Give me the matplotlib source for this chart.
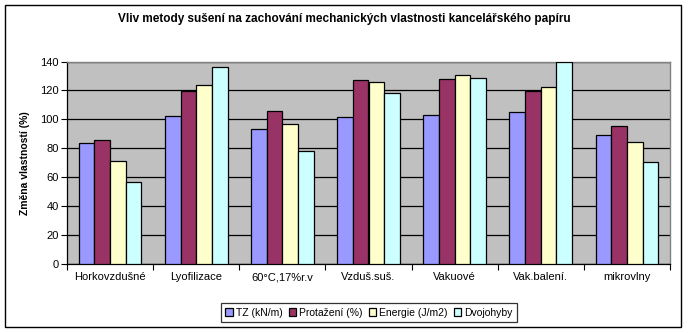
import matplotlib
matplotlib.use("Agg")
import matplotlib.pyplot as plt
import numpy as np
from matplotlib.patches import Rectangle

plt.rcParams['font.family'] = ['Liberation Sans', 'DejaVu Sans']

categories = ["Horkovzdušné", "Lyofilizace", "60°C,17%r.v", "Vzduš.suš.",
              "Vakuové", "Vak.balení.", "mikrovlny"]
series_names = ["TZ (kN/m)", "Protažení (%)", "Energie (J/m2)", "Dvojohyby"]
tz = [83.5, 102.2, 93.2, 101.5, 102.9, 105.2, 89.0]
protazeni = [85.8, 119.7, 105.7, 127.1, 127.8, 119.7, 95.3]
energie = [71.0, 123.9, 96.7, 125.7, 130.6, 122.3, 84.2]
dvojohyby = [56.5, 136.3, 78.0, 118.1, 128.5, 139.8, 70.4]
colors = ["#9999FF", "#993366", "#FFFFCC", "#CCFFFF"]
yticks = [0, 20, 40, 60, 80, 100, 120, 140]

fig = plt.figure(figsize=(6.89, 3.33), dpi=100)
fig.patch.set_facecolor("white")
fig.patches.append(Rectangle((5 / 689, 1 - 327 / 333), 676 / 689, 322 / 333,
                             transform=fig.transFigure, fill=False,
                             edgecolor="black", linewidth=1.0))

ax = fig.add_axes([67 / 689, 1 - 264 / 333, 603 / 689, 202.5 / 333])
ax.set_facecolor("#C0C0C0")

n = len(series_names)
width = 1 / 5.5
x = np.arange(len(categories))
data = [tz, protazeni, energie, dvojohyby]
for i, (vals, col, name) in enumerate(zip(data, colors, series_names)):
    offs = (i - (n - 1) / 2) * width
    ax.bar(x + offs, vals, width, color=col, edgecolor="black",
           linewidth=0.9, label=name, zorder=3)

ax.set_xlim(-0.5, len(categories) - 0.5)
ax.set_ylim(0, 140)
ax.set_yticks(yticks)
ax.yaxis.grid(True, color="black", linewidth=0.9, zorder=1)
ax.set_axisbelow(True)

ax.set_xticks(x)
ax.set_xticklabels(categories, fontsize=8)
ax.set_xticks(np.arange(-0.5, len(categories)), minor=True)
ax.tick_params(axis="x", which="major", length=0, pad=6)
ax.tick_params(axis="x", which="minor", length=4, width=0.8, direction="out")
ax.tick_params(axis="y", length=4, width=0.8, direction="out", labelsize=8, pad=2)

for side in ["top", "right"]:
    ax.spines[side].set_color("#808080")
    ax.spines[side].set_linewidth(1.0)
for side in ["left", "bottom"]:
    ax.spines[side].set_color("black")
    ax.spines[side].set_linewidth(0.9)

ax.set_ylabel("Změna vlastností (%)", fontsize=7.5, fontweight="bold", labelpad=7)

fig.text(0.5, 1 - 19 / 333, "Vliv metody sušení na zachování mechanických vlastnosti kancelářského papíru",
         ha="center", va="center", fontsize=8.5, fontweight="bold")

leg = fig.legend(loc="center", bbox_to_anchor=(369 / 689, 1 - 312.5 / 333),
                 ncol=4, fontsize=7.5, frameon=True, fancybox=False,
                 edgecolor="black", handlelength=0.7, handleheight=0.7,
                 handletextpad=0.3, columnspacing=0.6, borderpad=0.4,
                 borderaxespad=0)
leg.get_frame().set_linewidth(0.9)

fig.savefig("out.png", dpi=100, facecolor="white")
